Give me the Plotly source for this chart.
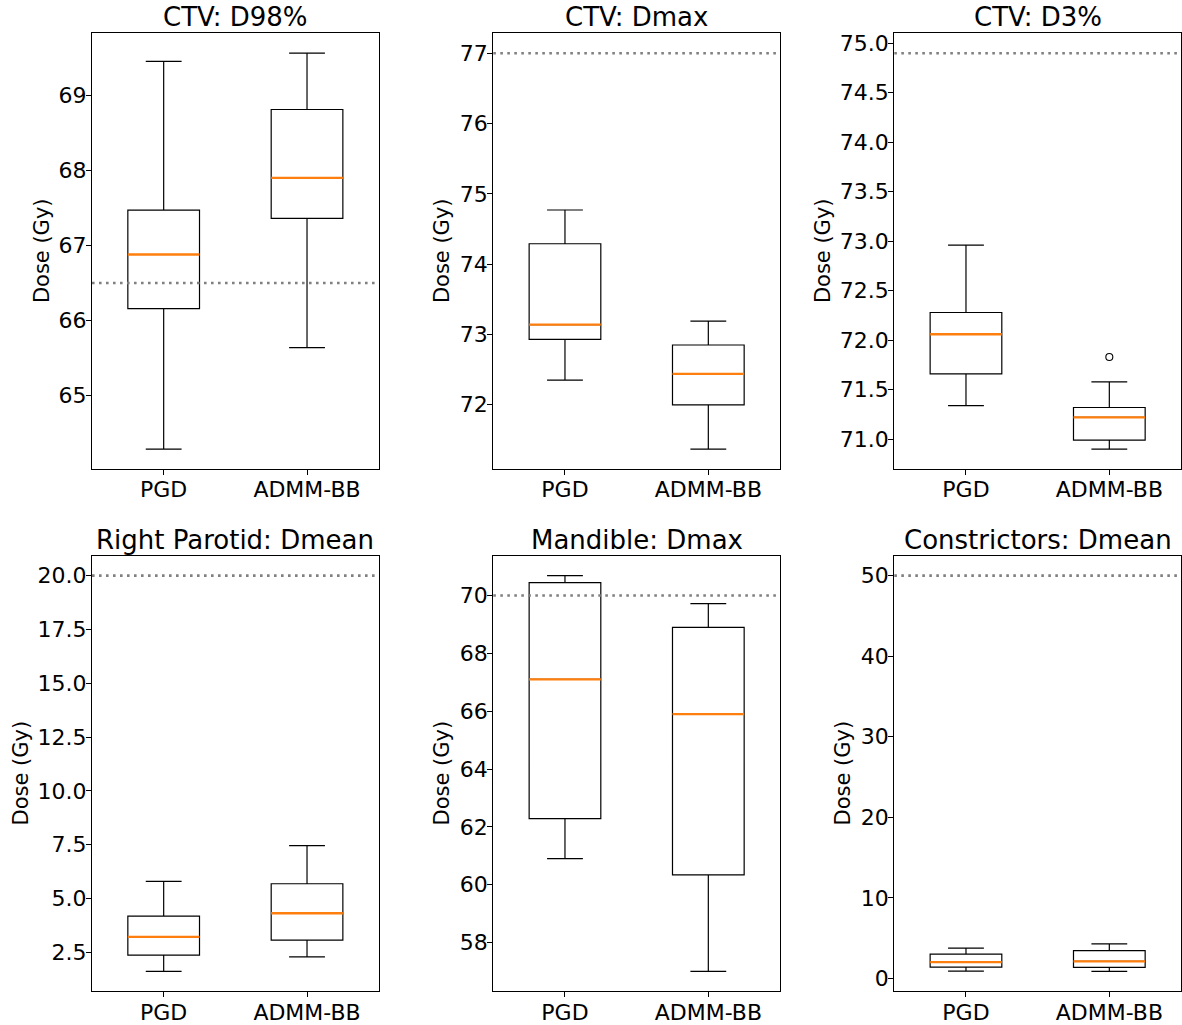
import plotly.graph_objects as go

# ---------------- data ----------------
titles = ["CTV: D98%", "CTV: Dmax", "CTV: D3%",
          "Right Parotid: Dmean", "Mandible: Dmax", "Constrictors: Dmean"]
methods = ["PGD", "ADMM-BB"]
thresholds = [66.5, 77.0, 74.9, 20.0, 70.0, 50.0]

pgd_lo = [64.29, 72.35, 71.34, 1.61, 60.90, 0.90]
pgd_q1 = [66.16, 72.93, 71.66, 2.36, 62.28, 1.40]
pgd_med = [66.88, 73.14, 72.06, 3.21, 67.10, 2.02]
pgd_q3 = [67.47, 74.29, 72.28, 4.18, 70.45, 3.00]
pgd_hi = [69.45, 74.77, 72.96, 5.79, 70.69, 3.75]

admm_lo = [65.64, 71.37, 70.90, 2.28, 57.00, 0.87]
admm_q1 = [67.36, 72.00, 70.99, 3.06, 60.34, 1.36]
admm_med = [67.90, 72.44, 71.22, 4.31, 65.90, 2.10]
admm_q3 = [68.81, 72.85, 71.32, 5.68, 68.90, 3.43]
admm_hi = [69.56, 73.19, 71.58, 7.45, 69.72, 4.29]

# outliers: (panel index, method index, value)
outlier_panel = [2]
outlier_method = [2]
outlier_value = [71.83]

tick_dtick = [1, 1, 0.5, 2.5, 2, 10]
tick_format = ["d", "d", ".1f", ".1f", "d", "d"]

# ---------------- layout geometry ----------------
W, H = 1182, 1025
col_px = [(92.0, 378.7), (493.3, 780.0), (894.3, 1181.0)]
row_px = [(31.5, 468.7), (556.0, 993.0)]
ylab_px = [42, 442, 823, 21, 442, 843]

FONT = "DejaVu Sans"
fig = go.Figure()
annotations = []

stats = [
    (pgd_lo, pgd_q1, pgd_med, pgd_q3, pgd_hi),
    (admm_lo, admm_q1, admm_med, admm_q3, admm_hi),
]

for i in range(6):
    r, c = divmod(i, 3)
    sfx = "" if i == 0 else str(i + 1)
    xa, ya = "x" + sfx, "y" + sfx
    x0, x1 = col_px[c]
    yt, yb = row_px[r]
    xdom = [x0 / W, x1 / W]
    ydom = [1 - yb / H, 1 - yt / H]

    for m, (lo, q1, med, q3, hi) in enumerate(stats):
        pos = m + 1
        fig.add_trace(go.Box(
            x=[pos], q1=[q1[i]], median=[med[i]], q3=[q3[i]],
            lowerfence=[lo[i]], upperfence=[hi[i]],
            width=0.5, whiskerwidth=0.5, boxpoints=False,
            line=dict(color="black", width=1.2),
            fillcolor="rgba(0,0,0,0)", xaxis=xa, yaxis=ya,
            showlegend=False, hoverinfo="skip"))
        fig.add_trace(go.Box(
            x=[pos], q1=[med[i]], median=[med[i]], q3=[med[i]],
            lowerfence=[med[i]], upperfence=[med[i]],
            width=0.5, whiskerwidth=1.0, boxpoints=False,
            line=dict(color="#ff7f0e", width=2.3),
            fillcolor="rgba(0,0,0,0)", xaxis=xa, yaxis=ya,
            showlegend=False, hoverinfo="skip"))

    ox = [outlier_method[k] for k in range(len(outlier_panel)) if outlier_panel[k] == i]
    oy = [outlier_value[k] for k in range(len(outlier_panel)) if outlier_panel[k] == i]
    if ox:
        fig.add_trace(go.Scatter(
            x=ox, y=oy, mode="markers", xaxis=xa, yaxis=ya,
            marker=dict(symbol="circle-open", size=7, color="black",
                        line=dict(width=1.1, color="black")),
            showlegend=False, hoverinfo="skip"))

    # threshold line
    fig.add_shape(type="line", xref=xa + " domain", yref=ya,
                  x0=0, x1=1, y0=thresholds[i], y1=thresholds[i],
                  line=dict(color="gray", width=2.6, dash="2.6px,4.4px"),
                  layer="above")

    # matplotlib-like autoscale (5% margin, including threshold)
    vals = [pgd_lo[i], pgd_hi[i], admm_lo[i], admm_hi[i], thresholds[i]]
    vals += oy
    vmin, vmax = min(vals), max(vals)
    span = vmax - vmin
    yr = [vmin - 0.05 * span, vmax + 0.05 * span]

    axis_common = dict(showline=True, mirror=True, linecolor="black",
                       linewidth=1.1, ticks="outside", ticklen=5,
                       tickwidth=1.1, tickcolor="black", showgrid=False,
                       zeroline=False,
                       tickfont=dict(family=FONT, size=22, color="black"))
    fig.layout["xaxis" + sfx] = dict(
        domain=xdom, anchor=ya, range=[0.5, 2.5], ticklabelstandoff=-4,
        tickmode="array", tickvals=[1, 2], ticktext=methods, **axis_common)
    fig.layout["yaxis" + sfx] = dict(
        domain=ydom, anchor=xa, range=yr, tickmode="linear",
        ticklabelstandoff=-5,
        tick0=0, dtick=tick_dtick[i], tickformat=tick_format[i],
        **axis_common)

    annotations.append(dict(
        text=titles[i], xref="paper", yref="paper",
        x=(xdom[0] + xdom[1]) / 2, y=ydom[1], xanchor="center",
        yanchor="bottom", yshift=-1, showarrow=False,
        font=dict(family=FONT, size=26, color="black")))
    annotations.append(dict(
        text="Dose (Gy)", xref="paper", yref="paper",
        x=ylab_px[i] / W, y=(ydom[0] + ydom[1]) / 2, xanchor="center",
        yanchor="middle", textangle=-90, showarrow=False,
        font=dict(family=FONT, size=21, color="black")))

fig.update_layout(
    width=W, height=H, margin=dict(l=0, r=0, t=0, b=0),
    paper_bgcolor="white", plot_bgcolor="white",
    boxmode="overlay", annotations=annotations,
    font=dict(family=FONT, color="black"))

fig.write_html(
    "out.html",
    config={"displayModeBar": False},
    post_script="document.body.style.margin='0px';"
                "document.body.style.overflow='hidden';")
